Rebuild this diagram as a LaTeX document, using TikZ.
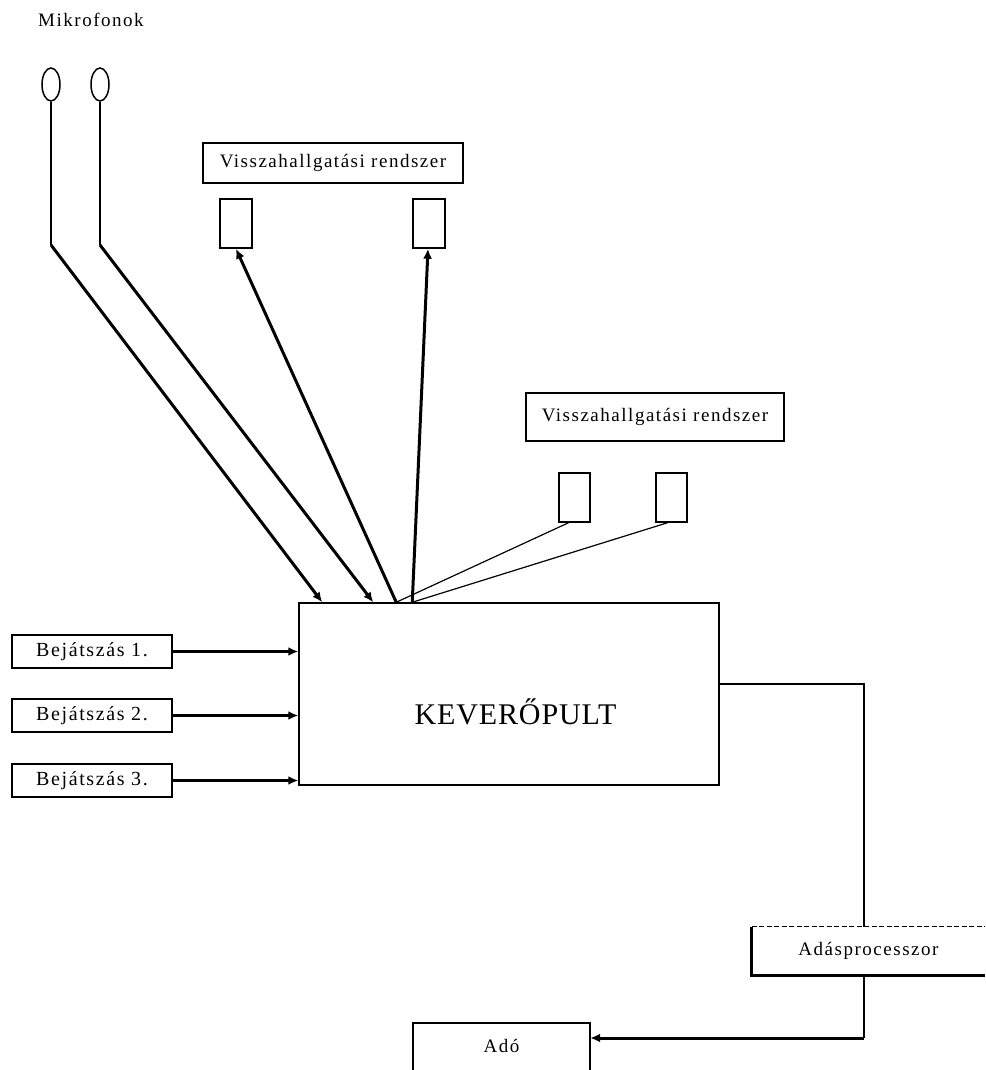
\documentclass[tikz,border=0pt]{standalone}
\usepackage{fontspec}
\setmainfont{Liberation Serif}
\newfontfamily\lblfont[LetterSpace=8]{Liberation Serif}
\newfontfamily\bigfont[LetterSpace=3]{Liberation Serif}
\usetikzlibrary{arrows.meta,shapes.geometric}
\begin{document}
\begin{tikzpicture}[x=1pt,y=-1pt,
  box/.style={draw, line width=1.5pt, inner sep=0pt},
  lbl/.style={font=\fontsize{19}{22}\lblfont},
  lblb/.style={font=\fontsize{20}{23}\lblfont},
  mic/.style={ellipse, draw, line width=1.5pt, inner sep=0pt, minimum width=18pt, minimum height=33pt},
  spk/.style={box, minimum width=32pt, minimum height=49pt},
  arr/.style={line width=3pt, -{Latex[length=10pt,width=9pt]}},
  thinline/.style={line width=1.2pt},
  wire/.style={line width=1.8pt}
]
\path[fill=white] (0,0) rectangle (985,1070);
\useasboundingbox (0,0) rectangle (985,1070);

% microphones
\node (mtitle) [lbl] at (91,19.5) {Mikrofonok};
\node (mic1) [mic] at (51,84.5) {};
\node (mic2) [mic] at (100,84.5) {};

% monitoring 1
\node (vr1) [box, lbl, minimum width=260pt, minimum height=40pt] at (333,163) {Visszahallgatási rendszer};
\node (spk1) [spk] at (236,223.5) {};
\node (spk2) [spk] at (429,223.5) {};

% monitoring 2
\node (vr2) [box, lbl, minimum width=258pt, minimum height=48pt] at (655,417) {Visszahallgatási rendszer};
\node (spk3) [spk, minimum width=31pt] at (574.5,497.5) {};
\node (spk4) [spk, minimum width=31pt] at (671.5,497.5) {};

% mixer
\node (kev) [box, minimum width=420pt, minimum height=182pt] at (509,694) {};
\node (kevtext) [font=\fontsize{30}{36}\bigfont] at ([xshift=6.5pt,yshift=-17.5pt]kev.center) {KEVERŐPULT};

% inputs
\node (b1) [box, lblb, minimum width=160pt, minimum height=33pt] at (92,651.5) {Bejátszás 1.};
\node (b2) [box, lblb, minimum width=160pt, minimum height=33pt] at (92,715.5) {Bejátszás 2.};
\node (b3) [box, lblb, minimum width=160pt, minimum height=33pt] at (92,780.5) {Bejátszás 3.};

% processor and transmitter
\node (adp) [lbl, inner sep=0pt, minimum width=233pt, minimum height=48pt] at (868.5,951) {Adásprocesszor};
\draw[line width=1.2pt, dash pattern=on 5pt off 2.5pt] (adp.north west) -- (adp.north east);
\draw[line width=3.2pt] (adp.north west) -- (adp.south west) -- (adp.south east);

\node (ado) [lbl, inner sep=0pt, minimum width=177pt, minimum height=46pt] at (501.5,1046) {Adó};
\draw[line width=1.5pt] ([yshift=-10pt]ado.south west) -- (ado.north west) -- (ado.north east) -- ([yshift=-10pt]ado.south east);

% coordinates
\coordinate (m1k) at (51,245);
\coordinate (m2k) at (100,245);
\coordinate (k1) at ([xshift=24pt]kev.north west);
\coordinate (k2) at ([xshift=75pt]kev.north west);
\coordinate (k3) at ([xshift=98pt]kev.north west);
\coordinate (k4) at ([xshift=114pt]kev.north west);
\coordinate (kout) at ([yshift=10pt]kev.east);
\coordinate (adpin) at ([xshift=-4.5pt]adp.north);
\coordinate (adpout) at ([xshift=-4.5pt]adp.south);
\coordinate (adoin) at ([yshift=8pt]ado.east);
\coordinate (corner) at (adpout |- adoin);

% microphone wires
\draw[wire] (mic1.south) -- (m1k);
\draw[arr] (m1k) -- (k1);
\draw[wire] (mic2.south) -- (m2k);
\draw[arr] (m2k) -- (k2);

% monitor feeds
\draw[arr] (k3) -- (spk1.south);
\draw[arr] (k4) -- ([xshift=-1pt]spk2.south);
\draw[thinline] (k3) -- ([xshift=-6pt]spk3.south);
\draw[thinline] (k4) -- ([xshift=-4pt]spk4.south);

% inputs
\draw[arr] (b1.east) -- (b1.east -| kev.west);
\draw[arr] (b2.east) -- (b2.east -| kev.west);
\draw[arr, line width=3.6pt] (b3.east) -- (b3.east -| kev.west);

% output chain
\draw[thinline] (kout) -| (adpin);
\draw[wire] (adpout) -- (corner);
\draw[arr] (corner) -- (adoin);
\end{tikzpicture}
\end{document}
